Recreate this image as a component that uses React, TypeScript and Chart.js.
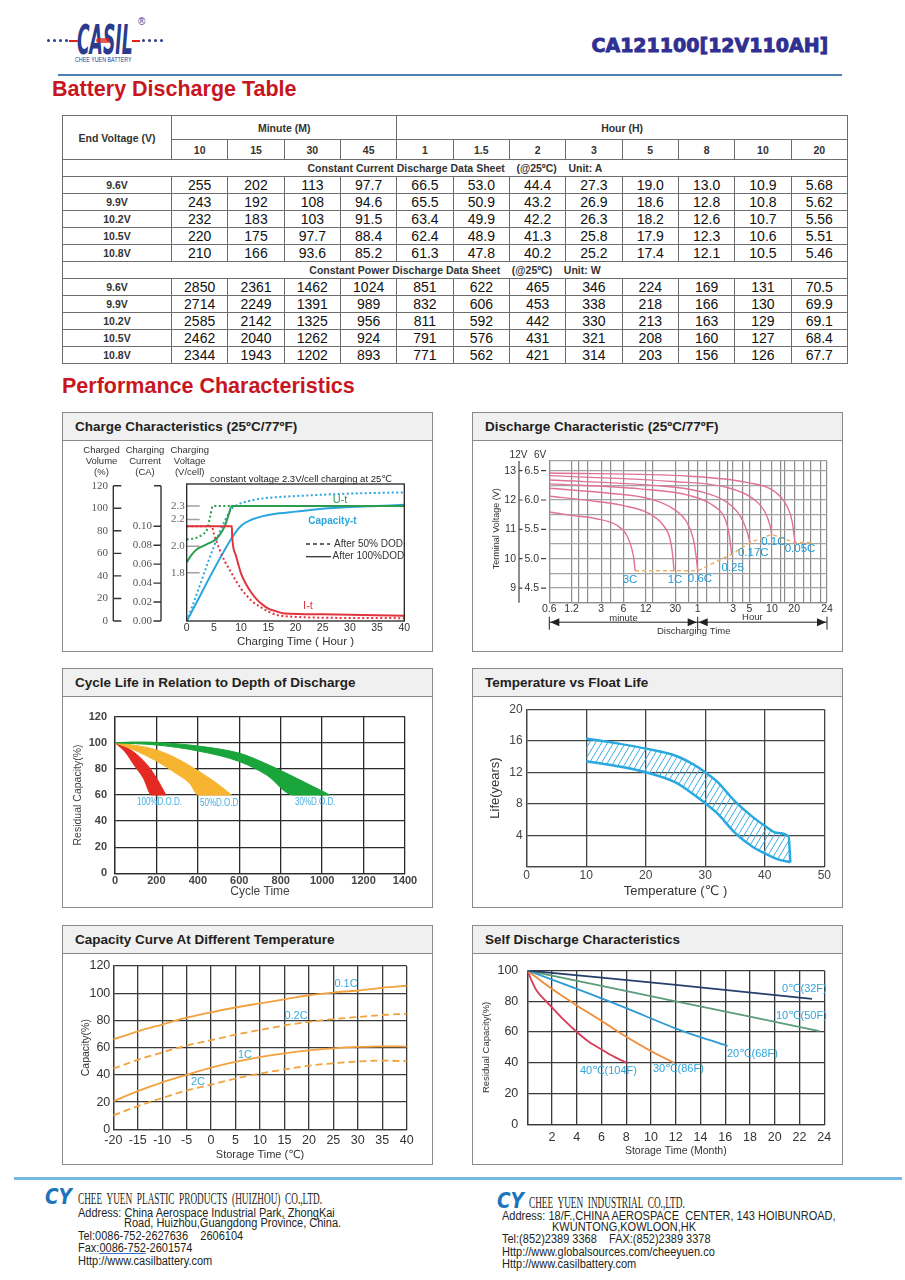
import React, { useEffect, useRef } from 'react';
import { Chart, registerables } from 'chart.js';

Chart.register(...registerables);

const SANS = "'Liberation Sans', Arial, 'DejaVu Sans', sans-serif";
const SERIF = "'Liberation Serif', 'DejaVu Serif', serif";
Chart.defaults.font.family = SANS;
Chart.defaults.color = '#333';

// ---------------- Table data ----------------
const minuteHeaders = ['10', '15', '30', '45'];
const hourHeaders = ['1', '1.5', '2', '3', '5', '8', '10', '20'];
const endVoltages = ['9.6V', '9.9V', '10.2V', '10.5V', '10.8V'];
const currentAt96 = ['255', '202', '113', '97.7', '66.5', '53.0', '44.4', '27.3', '19.0', '13.0', '10.9', '5.68'];
const currentAt99 = ['243', '192', '108', '94.6', '65.5', '50.9', '43.2', '26.9', '18.6', '12.8', '10.8', '5.62'];
const currentAt102 = ['232', '183', '103', '91.5', '63.4', '49.9', '42.2', '26.3', '18.2', '12.6', '10.7', '5.56'];
const currentAt105 = ['220', '175', '97.7', '88.4', '62.4', '48.9', '41.3', '25.8', '17.9', '12.3', '10.6', '5.51'];
const currentAt108 = ['210', '166', '93.6', '85.2', '61.3', '47.8', '40.2', '25.2', '17.4', '12.1', '10.5', '5.46'];
const powerAt96 = ['2850', '2361', '1462', '1024', '851', '622', '465', '346', '224', '169', '131', '70.5'];
const powerAt99 = ['2714', '2249', '1391', '989', '832', '606', '453', '338', '218', '166', '130', '69.9'];
const powerAt102 = ['2585', '2142', '1325', '956', '811', '592', '442', '330', '213', '163', '129', '69.1'];
const powerAt105 = ['2462', '2040', '1262', '924', '791', '576', '431', '321', '208', '160', '127', '68.4'];
const powerAt108 = ['2344', '1943', '1202', '893', '771', '562', '421', '314', '203', '156', '126', '67.7'];
const currentRows = [currentAt96, currentAt99, currentAt102, currentAt105, currentAt108];
const powerRows = [powerAt96, powerAt99, powerAt102, powerAt105, powerAt108];

// ---------------- Charge characteristics ----------------
const chargeAxisCaptions = [['Charged', 'Volume', '(%)'], ['Charging', 'Current', '(CA)'], ['Charging', 'Voltage', '(V/cell)']];
const chargeVolumeTicks = [0, 20, 40, 60, 80, 100, 120];
const chargeCurrentTicks = [0, 0.02, 0.04, 0.06, 0.08, 0.1];
const chargeVoltageTicks = [1.8, 2.0, 2.2, 2.3];
const capFullHours = [0, 8.6, 10, 12, 14, 17, 20, 25, 30, 35, 40];
const capFullPct = [0, 76, 84.5, 90, 93, 95.5, 97, 99.5, 101, 102, 103];
const capHalfHours = [0, 8, 9, 10, 12, 14, 17, 20, 25, 30, 35, 40];
const capHalfPct = [0, 98, 102, 104.5, 107, 108.7, 110, 110.8, 112, 113, 113.6, 114.1];
const voltFullHours = [0, 1, 2, 3, 4, 5, 6, 7, 7.6, 8.3, 40];
const voltFullV = [1.88, 1.94, 1.98, 2.0, 2.02, 2.04, 2.08, 2.15, 2.22, 2.3, 2.3];
const voltHalfHours = [0, 1, 2, 3, 3.7, 4.3, 4.8, 40];
const voltHalfV = [2.05, 2.055, 2.065, 2.09, 2.12, 2.22, 2.3, 2.3];
const currFullHours = [0, 8.3, 8.35, 9, 10, 11, 12, 13, 14, 15, 16, 18, 25, 40];
const currFullCA = [0.1, 0.1, 0.09, 0.07, 0.05, 0.038, 0.029, 0.022, 0.017, 0.013, 0.011, 0.008, 0.007, 0.0055];
const currHalfHours = [0, 4.6, 5, 6, 7, 8, 9, 10, 11, 12, 13.5, 15, 16.5, 19.6, 25, 40];
const currHalfCA = [0.1, 0.1, 0.092, 0.076, 0.063, 0.053, 0.043, 0.034, 0.027, 0.021, 0.015, 0.01, 0.0065, 0.0045, 0.0035, 0.003];
// relations of the three left scales (plot units = charged volume %)
const volumeMax = 121.5;
const volumePerCA = 840;
const volumePerVolt = 118.5;
const volumeOffsetVolt = 170.6;

// ---------------- Discharge characteristic ----------------
const dischargeGridMinutes = [0.6, 1.2, 1.5, 2, 3, 4, 6, 12, 15, 30, 45, 60, 80, 120, 150, 180, 240, 300, 420, 600, 780, 900, 1200, 1600, 2000, 2700, 3320];
const dischargeTickMinutes = [0.6, 1.2, 3, 6, 12, 30, 60, 180, 300, 600, 1200, 3320];
const dischargeTickLabels = ['0.6', '1.2', '3', '6', '12', '30', '1', '3', '5', '10', '20', '24'];
const dischargeGridVolts = [8.5, 9, 9.5, 10, 10.5, 11, 11.5, 12, 12.5, 13, 13.33];
const dischargeVoltTicks = [9, 10, 11, 12, 13];
const d3CMin = [0.6, 1.26, 2.61, 4.86, 6.63, 7.74, 8.39, 8.57];
const d3CV = [11.59, 11.47, 11.36, 11.14, 10.8, 10.35, 9.89, 9.59];
const d1CMin = [0.6, 2.12, 5.96, 13.6, 20.6, 25.4, 27.6, 28.8];
const d1CV = [12.13, 11.98, 11.81, 11.53, 11.14, 10.68, 10.12, 9.59];
const d06CMin = [0.6, 3.56, 13.6, 28.1, 42.6, 52.3, 56.9, 60];
const d06CV = [12.4, 12.24, 12.04, 11.7, 11.25, 10.68, 10.12, 9.59];
const d025CMin = [0.6, 10, 47.2, 97.3, 140, 160, 172];
const d025CV = [12.55, 12.38, 12.15, 11.81, 11.36, 10.8, 10.15];
const d017CMin = [0.6, 16.8, 64.4, 147.5, 223, 274, 304];
const d017CV = [12.68, 12.49, 12.29, 11.93, 11.47, 10.97, 10.55];
const d01CMin = [0.6, 28.1, 147.5, 337, 484, 565, 596];
const d01CV = [12.83, 12.63, 12.43, 12.04, 11.59, 11.14, 10.83];
const d005CMin = [0.6, 47.2, 274, 627, 949, 1130, 1228];
const d005CV = [12.92, 12.81, 12.6, 12.32, 11.81, 11.25, 10.55];
const endVoltMin = [8.57, 60, 172, 304, 596, 1228, 2000];
const endVoltV = [9.59, 9.59, 10.15, 10.55, 10.83, 10.55, 10.55];
const dischargeRateLabels = ['3C', '1C', '0.6C', '0.25', '0.17C', '0.1C', '0.05C'];

// ---------------- Cycle life ----------------
const dod100UpperX = [0, 40, 88, 156, 201, 246];
const dod100UpperY = [100, 97.5, 93.2, 83, 72.8, 60];
const dod100LowerX = [0, 48, 92, 137, 177, 246];
const dod100LowerY = [100, 93.2, 83, 72.8, 60, 60];
const dod50UpperX = [0, 100, 201, 298, 402, 491, 563];
const dod50UpperY = [100, 98, 94.5, 88, 78.4, 69, 60];
const dod50LowerX = [0, 100, 200, 300, 360, 402, 563];
const dod50LowerY = [100, 94, 86, 76, 69, 60, 60];
const dod30UpperX = [0, 100, 201, 402, 603, 700, 805, 925, 1038];
const dod30UpperY = [100, 100.6, 100.3, 97.5, 91.9, 86, 78.4, 69, 60];
const dod30LowerX = [0, 201, 402, 603, 732, 861, 1038];
const dod30LowerY = [100, 98.3, 93.7, 85.5, 75.3, 60, 60];
const dodLabels = ['100%D.O.D.', '50%D.O.D', '30%D.O.D.'];

// ---------------- Float life ----------------
const floatUpperTemp = [10, 15, 20, 25, 28, 30, 32, 35, 38, 40, 42, 44, 44.3];
const floatUpperYears = [16.3, 15.7, 15.0, 14.1, 13.0, 12.0, 10.8, 8.3, 6.3, 5.2, 4.3, 3.85, 0.55];
const floatLowerTemp = [10, 15, 20, 25, 28, 30, 32, 35, 38, 40, 42, 44.3];
const floatLowerYears = [13.4, 12.8, 12.0, 10.7, 9.2, 8.05, 6.8, 4.3, 2.5, 1.7, 1.0, 0.55];

// ---------------- Capacity vs temperature ----------------
const tempAxis = [-20, -15, -10, -5, 0, 5, 10, 15, 20, 25, 30, 35, 40];
const cap01C = [66, 72, 77, 82, 86, 89.5, 92.5, 95.5, 98.5, 100.5, 102, 104, 105.5];
const cap02C = [44.6, 51, 56.5, 61.5, 65.5, 69.5, 73, 76.3, 79, 81, 82.5, 84, 84.8];
const cap1C = [20.6, 28, 34.5, 40, 45.3, 49.5, 53, 55.8, 58, 59.5, 60.5, 61, 60.8];
const cap2C = [10.3, 17, 23, 28.5, 32.8, 37.3, 41, 44, 46.8, 48.5, 49.8, 50.5, 50];
const capRateLabels = ['0.1C', '0.2C', '1C', '2C'];

// ---------------- Self discharge ----------------
const sd0Months = [0, 12, 23];
const sd0Pct = [100, 90.6, 81.6];
const sd10Months = [0, 12, 23.6];
const sd10Pct = [100, 80, 60.6];
const sd20Months = [0, 4, 8, 12.07, 16.19];
const sd20Pct = [100, 88.1, 75.5, 62.1, 50.9];
const sd30Months = [0, 1.97, 4, 6.14, 8.03, 9.9, 11.85];
const sd30Pct = [100, 88.1, 77.3, 66.5, 56.7, 48, 40];
const sd40Months = [0, 0.75, 1.97, 3, 4, 5, 6.14, 7, 8.03];
const sd40Pct = [100, 87, 76.2, 67.5, 60, 53.5, 48, 44, 40];
const sdLabels = ['0℃(32F)', '10℃(50F)', '20℃(68F)', '30℃(86F)', '40℃(104F)'];

// ---------------- helpers ----------------
const pts = (xs: number[], ys: number[]) => xs.map((x, i) => ({ x, y: ys[i] }));

function lineDs(data: any[], color: string, extra: any = {}) {
  return {
    data,
    borderColor: color,
    backgroundColor: color,
    borderWidth: 2,
    pointRadius: 0,
    fill: false,
    cubicInterpolationMode: 'monotone',
    ...extra,
  };
}

function baseOptions(padding: any) {
  return {
    responsive: false,
    maintainAspectRatio: false,
    animation: false,
    devicePixelRatio: 1,
    events: [],
    layout: { padding },
    plugins: { legend: { display: false }, tooltip: { enabled: false } },
    elements: { point: { radius: 0 } },
  };
}

function axis(o: any) {
  const horizontal = !!o.horizontal;
  return {
    type: 'linear',
    min: o.min,
    max: o.max,
    ticks: {
      stepSize: o.step,
      padding: o.pad,
      color: o.labelColor || '#333',
      font: { size: o.labelSize, weight: o.bold ? 'bold' : 'normal', family: SANS },
      maxRotation: 0,
      autoSkip: false,
      callback: (v: number) => (o.hideZero && v === 0 ? '' : String(Math.round(v * 100) / 100)),
    },
    grid: { color: o.gridColor, lineWidth: o.gridWidth, drawTicks: false },
    border: { display: true, color: o.gridColor, width: o.gridWidth },
    title: {
      display: true,
      text: o.title,
      color: o.titleColor || '#333',
      font: { size: o.titleSize, family: SANS },
      padding: horizontal ? { top: 0, bottom: o.titlePad } : { top: o.titlePad, bottom: 0 },
    },
    afterFit: (s: any) => {
      if (horizontal) s.height = o.fixed;
      else s.width = o.fixed;
    },
  };
}

function text(ctx: any, t: string, x: number, y: number, font: string, color: string, align = 'center', sx = 1) {
  ctx.save();
  ctx.font = font;
  ctx.fillStyle = color;
  ctx.textAlign = align;
  ctx.textBaseline = 'middle';
  ctx.translate(x, y);
  ctx.scale(sx, 1);
  ctx.fillText(t, 0, 0);
  ctx.restore();
}

// ---------------- Chart 1 ----------------
const RED = '#e2343f';
const GREEN = '#2a9d4f';
const BLUE = '#2aa6de';

const chargeDecor = {
  id: 'chargeDecor',
  afterDraw(chart: any) {
    const { ctx, chartArea: a, scales } = chart;
    const yCap = scales.yCap;
    const yCur = scales.yCur;
    const yVolt = scales.yVolt;
    ctx.save();
    const headX = [38.5, 82, 126.7];
    chargeAxisCaptions.forEach((lines, i) =>
      lines.forEach((t, j) => text(ctx, t, headX[i], 9 + j * 11.3, `9.5px ${SANS}`, '#333')),
    );
    const top = yCap.getPixelForValue(120);
    const bottom = yCap.getPixelForValue(0);
    ctx.strokeStyle = '#333';
    ctx.lineWidth = 1.4;
    const vx = 50.3;
    ctx.beginPath();
    ctx.moveTo(vx, top);
    ctx.lineTo(vx, bottom);
    chargeVolumeTicks.forEach((v) => {
      const py = yCap.getPixelForValue(v);
      ctx.moveTo(vx, py);
      ctx.lineTo(vx + 8, py);
    });
    const cx = 98;
    ctx.moveTo(cx, top);
    ctx.lineTo(cx, bottom);
    ctx.moveTo(cx - 7, top);
    ctx.lineTo(cx, top);
    chargeCurrentTicks.forEach((c) => {
      const py = yCur.getPixelForValue(c);
      ctx.moveTo(cx - 7.5, py);
      ctx.lineTo(cx, py);
    });
    ctx.stroke();
    chargeVolumeTicks.forEach((v) => text(ctx, String(v), 45, yCap.getPixelForValue(v), `11px ${SERIF}`, '#555', 'right'));
    chargeCurrentTicks.forEach((c) => text(ctx, c.toFixed(2), 89, yCur.getPixelForValue(c), `11px ${SERIF}`, '#555', 'right'));
    ctx.strokeStyle = '#a0a0a0';
    ctx.lineWidth = 1.5;
    ctx.beginPath();
    chargeVoltageTicks.forEach((v) => {
      const py = yVolt.getPixelForValue(v);
      ctx.moveTo(a.left, py);
      ctx.lineTo(a.left + 13, py);
    });
    ctx.stroke();
    chargeVoltageTicks.forEach((v) => text(ctx, v.toFixed(1), a.left - 2, yVolt.getPixelForValue(v), `11px ${SERIF}`, '#666', 'right'));
    ctx.strokeStyle = '#222';
    ctx.lineWidth = 1.3;
    ctx.strokeRect(a.left, a.top, a.right - a.left, a.bottom - a.top);
    text(ctx, 'constant voltage 2.3V/cell charging at 25℃', 238, 38, `9.5px ${SANS}`, '#222');
    text(ctx, 'U-t', 277, 59, `11px ${SANS}`, GREEN);
    text(ctx, 'Capacity-t', 269.5, 80.7, `bold 10px ${SANS}`, BLUE);
    text(ctx, 'I-t', 245, 165, `11px ${SANS}`, RED);
    ctx.strokeStyle = '#333';
    ctx.lineWidth = 1.3;
    ctx.setLineDash([4, 3]);
    ctx.beginPath();
    ctx.moveTo(243, 103);
    ctx.lineTo(267, 103);
    ctx.stroke();
    ctx.setLineDash([]);
    ctx.beginPath();
    ctx.moveTo(243, 115.7);
    ctx.lineTo(268, 115.7);
    ctx.stroke();
    text(ctx, 'After 50% DOD', 271, 103, `10px ${SANS}`, '#333', 'left');
    text(ctx, 'After 100%DOD', 269.5, 115.7, `10px ${SANS}`, '#333', 'left');
    ctx.restore();
  },
};

function makeCharge() {
  const dot = [2, 2.5];
  return {
    type: 'line',
    data: {
      datasets: [
        lineDs(pts(currHalfHours, currHalfCA), RED, { yAxisID: 'yCur', borderDash: dot }),
        lineDs(pts(currFullHours, currFullCA), RED, { yAxisID: 'yCur' }),
        lineDs(pts(voltHalfHours, voltHalfV), GREEN, { yAxisID: 'yVolt', borderDash: dot }),
        lineDs(pts(voltFullHours, voltFullV), GREEN, { yAxisID: 'yVolt' }),
        lineDs(pts(capHalfHours, capHalfPct), BLUE, { yAxisID: 'yCap', borderDash: dot }),
        lineDs(pts(capFullHours, capFullPct), BLUE, { yAxisID: 'yCap' }),
      ],
    },
    options: {
      ...baseOptions({ left: 123.7, top: 43, right: 27.7, bottom: 0 }),
      scales: {
        x: {
          type: 'linear',
          min: 0,
          max: 40,
          ticks: { stepSize: 5, padding: 0.5, color: '#333', font: { size: 10.5 }, maxRotation: 0 },
          grid: { display: false, drawTicks: false },
          border: { display: false },
          title: { display: true, text: 'Charging Time ( Hour )', color: '#333', font: { size: 11.5 }, padding: { top: 0, bottom: 3.1 } },
          afterFit: (s: any) => { s.height = 31; },
        },
        yCap: { type: 'linear', display: false, min: 0, max: volumeMax },
        yCur: { type: 'linear', display: false, min: 0, max: volumeMax / volumePerCA },
        yVolt: {
          type: 'linear',
          display: false,
          min: volumeOffsetVolt / volumePerVolt,
          max: (volumeMax + volumeOffsetVolt) / volumePerVolt,
        },
      },
    },
    plugins: [chargeDecor],
  };
}

// ---------------- Chart 2 ----------------
const PINK = '#e0729a';
const DISCHARGE_LABEL_POS = [
  [157, 139], [202, 139], [227, 138], [259.7, 126.7], [280.3, 112.3], [300.3, 101.3], [327, 108.3],
];

function arrowHead(ctx: any, tip: number, y: number, dir: number) {
  ctx.beginPath();
  ctx.moveTo(tip, y);
  ctx.lineTo(tip - dir * 9, y - 4);
  ctx.lineTo(tip - dir * 9, y + 4);
  ctx.closePath();
  ctx.fill();
}

const dischargeDecor = {
  id: 'dischargeDecor',
  afterDraw(chart: any) {
    const { ctx, chartArea: a, scales } = chart;
    const x = scales.x;
    const y = scales.y;
    ctx.save();
    const top = y.getPixelForValue(y.max);
    const bot = y.getPixelForValue(y.min);
    ctx.strokeStyle = '#444';
    ctx.lineWidth = 1.2;
    ctx.beginPath();
    ctx.moveTo(46, top);
    ctx.lineTo(46, bot);
    dischargeVoltTicks.forEach((v) => {
      const py = y.getPixelForValue(v);
      ctx.moveTo(46, py);
      ctx.lineTo(49.5, py);
      ctx.moveTo(68, py);
      ctx.lineTo(73, py);
    });
    ctx.stroke();
    dischargeVoltTicks.forEach((v) => {
      const py = y.getPixelForValue(v);
      text(ctx, String(v), 43, py, `10.5px ${SANS}`, '#333', 'right');
      text(ctx, (v / 2).toFixed(1), 66, py, `10.5px ${SANS}`, '#333', 'right');
    });
    text(ctx, '12V', 45.5, 14, `10px ${SANS}`, '#333');
    text(ctx, '6V', 67, 14, `10px ${SANS}`, '#333');
    ctx.save();
    ctx.translate(24, (top + bot) / 2 - 3);
    ctx.rotate(-Math.PI / 2);
    text(ctx, 'Terminal Voltage (V)', 0, 0, `9px ${SANS}`, '#333');
    ctx.restore();
    const xm = x.getPixelForValue(0.6);
    const xh = x.getPixelForValue(60);
    const xe = x.getPixelForValue(x.max);
    const ay = a.bottom + 19.5;
    ctx.strokeStyle = '#222';
    ctx.fillStyle = '#222';
    ctx.lineWidth = 1;
    ctx.beginPath();
    ctx.moveTo(xm, ay);
    ctx.lineTo(xe, ay);
    [xm, xh, xe].forEach((px) => {
      ctx.moveTo(px, a.bottom + 14);
      ctx.lineTo(px, a.bottom + 27);
    });
    ctx.stroke();
    arrowHead(ctx, xm + 1, ay, -1);
    arrowHead(ctx, xh - 1, ay, 1);
    arrowHead(ctx, xh + 1, ay, -1);
    arrowHead(ctx, xe - 1, ay, 1);
    text(ctx, 'minute', (xm + xh) / 2, a.bottom + 15.5, `9.5px ${SANS}`, '#333');
    text(ctx, 'Hour', (xh + xe) / 2 - 10, a.bottom + 14.5, `9.5px ${SANS}`, '#333');
    text(ctx, 'Discharging Time', xh - 4, a.bottom + 28.5, `9.5px ${SANS}`, '#333');
    dischargeRateLabels.forEach((t, i) =>
      text(ctx, t, DISCHARGE_LABEL_POS[i][0], DISCHARGE_LABEL_POS[i][1], `11.5px ${SANS}`, '#1e9ad6'),
    );
    ctx.restore();
  },
};

function makeDischarge() {
  const curves = [
    [d3CMin, d3CV], [d1CMin, d1CV], [d06CMin, d06CV], [d025CMin, d025CV],
    [d017CMin, d017CV], [d01CMin, d01CV], [d005CMin, d005CV],
  ];
  return {
    type: 'line',
    data: {
      datasets: [
        ...curves.map(([t, v]) => lineDs(pts(t, v), PINK, { borderWidth: 1.4 })),
        lineDs(pts(endVoltMin, endVoltV), '#f1b061', { borderWidth: 1.4, borderDash: [4, 3], cubicInterpolationMode: 'default', tension: 0 }),
      ],
    },
    options: {
      ...baseOptions({ left: 0, top: 20, right: 16, bottom: 0 }),
      scales: {
        x: {
          type: 'logarithmic',
          min: 0.6,
          max: 3320,
          afterBuildTicks: (s: any) => { s.ticks = dischargeGridMinutes.map((value) => ({ value })); },
          ticks: {
            autoSkip: false,
            maxRotation: 0,
            padding: 0,
            color: '#333',
            font: { size: 10.5 },
            callback: (v: number) => {
              const i = dischargeTickMinutes.findIndex((m) => Math.abs(m - v) / m < 0.001);
              return i >= 0 ? dischargeTickLabels[i] : '';
            },
          },
          grid: { color: '#8c8c8c', lineWidth: 1.2, drawTicks: false },
          border: { display: true, color: '#8c8c8c', width: 1.2 },
          afterFit: (s: any) => { s.height = 49.3; },
        },
        y: {
          type: 'linear',
          min: 8.5,
          max: 13.33,
          afterBuildTicks: (s: any) => { s.ticks = dischargeGridVolts.map((value) => ({ value })); },
          ticks: { display: false },
          grid: { color: '#a3a3a3', lineWidth: 1.2, drawTicks: false },
          border: { display: true, color: '#8c8c8c', width: 1.2 },
          afterFit: (s: any) => { s.width = 76.3; },
        },
      },
    },
    plugins: [dischargeDecor],
  };
}

// ---------------- Chart 3 ----------------
const DOD_LABEL_POS = [[74, 105], [137, 106], [232, 105]];
const cycleDecor = {
  id: 'cycleDecor',
  afterDraw(chart: any) {
    const { ctx } = chart;
    dodLabels.forEach((t, i) => text(ctx, t, DOD_LABEL_POS[i][0], DOD_LABEL_POS[i][1], `10px ${SANS}`, '#45aee0', 'left', 0.8));
  },
};

function band(upper: any[], lower: any[], color: string) {
  return [
    lineDs(upper, color, { borderWidth: 1 }),
    lineDs(lower, color, { borderWidth: 1, fill: '-1' }),
  ];
}

function makeCycle() {
  return {
    type: 'line',
    data: {
      datasets: [
        ...band(pts(dod30UpperX, dod30UpperY), pts(dod30LowerX, dod30LowerY), '#19a53a'),
        ...band(pts(dod50UpperX, dod50UpperY), pts(dod50LowerX, dod50LowerY), '#f7b431'),
        ...band(pts(dod100UpperX, dod100UpperY), pts(dod100LowerX, dod100LowerY), '#e52a23'),
      ],
    },
    options: {
      ...baseOptions({ left: 0, top: 19.7, right: 27, bottom: 0 }),
      scales: {
        x: axis({ horizontal: true, min: 0, max: 1400, step: 200, fixed: 33.7, labelSize: 11, bold: true, labelColor: '#444', pad: 1.1, title: 'Cycle Time', titleSize: 12, titlePad: 8.1, titleColor: '#444', gridColor: '#2b2b2b', gridWidth: 1.3 }),
        y: axis({ min: 0, max: 120, step: 20, fixed: 52, labelSize: 11, bold: true, labelColor: '#444', pad: 8, title: 'Residual Capacity(%)', titleSize: 10.5, titlePad: 8.7, titleColor: '#444', gridColor: '#2b2b2b', gridWidth: 1.3 }),
      },
    },
    plugins: [cycleDecor],
  };
}

// ---------------- Chart 4 ----------------
function hatch(color: string) {
  const c = document.createElement('canvas');
  c.width = 6;
  c.height = 10;
  const g = c.getContext('2d') as CanvasRenderingContext2D;
  g.strokeStyle = color;
  g.lineWidth = 1;
  g.beginPath();
  g.moveTo(0, 10);
  g.lineTo(6, 0);
  g.moveTo(-6, 10);
  g.lineTo(0, 0);
  g.moveTo(6, 10);
  g.lineTo(12, 0);
  g.stroke();
  return g.createPattern(c, 'repeat');
}

function makeFloat() {
  const edge = '#2aa8e0';
  return {
    type: 'line',
    data: {
      datasets: [
        lineDs(pts(floatUpperTemp, floatUpperYears), edge, { borderWidth: 2.5 }),
        lineDs(pts(floatLowerTemp, floatLowerYears), edge, { borderWidth: 2.5, fill: '-1', backgroundColor: hatch('#3aaee0') }),
      ],
    },
    options: {
      ...baseOptions({ left: 0, top: 12.3, right: 18.7, bottom: 0 }),
      scales: {
        x: axis({ horizontal: true, min: 0, max: 50, step: 10, fixed: 40.3, labelSize: 12, labelColor: '#444', pad: 2, title: 'Temperature (℃ )', titleSize: 13, titlePad: 8.2, gridColor: '#454545', gridWidth: 1.3 }),
        y: axis({ min: 0, max: 20, step: 4, fixed: 53.7, labelSize: 12, labelColor: '#444', pad: 4, hideZero: true, title: 'Life(years)', titleSize: 13, titlePad: 14.2, gridColor: '#454545', gridWidth: 1.3 }),
      },
    },
  };
}

// ---------------- Chart 5 ----------------
const CAP_LABEL_POS = [[283, 29.7], [233, 62], [182, 101], [135, 128]];
const capDecor = {
  id: 'capDecor',
  afterDraw(chart: any) {
    const { ctx } = chart;
    capRateLabels.forEach((t, i) => text(ctx, t, CAP_LABEL_POS[i][0], CAP_LABEL_POS[i][1], `11px ${SANS}`, '#39a9dc'));
  },
};

function makeCapacity() {
  const orange = '#f2a23e';
  const dash = [7, 4];
  return {
    type: 'line',
    data: {
      datasets: [
        lineDs(pts(tempAxis, cap01C), orange, { borderWidth: 1.8 }),
        lineDs(pts(tempAxis, cap02C), orange, { borderWidth: 1.8, borderDash: dash }),
        lineDs(pts(tempAxis, cap1C), orange, { borderWidth: 1.8 }),
        lineDs(pts(tempAxis, cap2C), orange, { borderWidth: 1.8, borderDash: dash }),
      ],
    },
    options: {
      ...baseOptions({ left: 0, top: 12, right: 25.3, bottom: 0 }),
      scales: {
        x: axis({ horizontal: true, min: -20, max: 40, step: 5, fixed: 34.7, labelSize: 12.5, pad: 3.5, title: 'Storage Time (℃)', titleSize: 11, titlePad: 2.7, gridColor: '#3a3a3a', gridWidth: 1.3 }),
        y: axis({ min: 0, max: 120, step: 20, fixed: 50.3, labelSize: 12.5, pad: 3, title: 'Capacity(%)', titleSize: 10.5, titlePad: 17, gridColor: '#3a3a3a', gridWidth: 1.3 }),
      },
    },
    plugins: [capDecor],
  };
}

// ---------------- Chart 6 ----------------
const SD_LABEL_POS = [[309, 35], [303, 62], [254, 100], [180, 115], [107, 117]];
const sdDecor = {
  id: 'sdDecor',
  afterDraw(chart: any) {
    const { ctx } = chart;
    sdLabels.forEach((t, i) => text(ctx, t, SD_LABEL_POS[i][0], SD_LABEL_POS[i][1], `11px ${SANS}`, '#2fa5dc', 'left'));
  },
};

function makeSelfDischarge() {
  const opt = { borderWidth: 1.8, tension: 0.3, cubicInterpolationMode: 'default' };
  return {
    type: 'line',
    data: {
      datasets: [
        lineDs(pts(sd0Months, sd0Pct), '#27406b', opt),
        lineDs(pts(sd10Months, sd10Pct), '#5d9c7c', opt),
        lineDs(pts(sd20Months, sd20Pct), '#2b9ad6', opt),
        lineDs(pts(sd30Months, sd30Pct), '#f08b36', opt),
        lineDs(pts(sd40Months, sd40Pct), '#da3a5c', opt),
      ],
    },
    options: {
      ...baseOptions({ left: 0, top: 16.3, right: 18.7, bottom: 0 }),
      scales: {
        x: axis({ horizontal: true, min: 0, max: 24, step: 2, fixed: 39.7, labelSize: 12.5, pad: 6.2, hideZero: true, title: 'Storage Time (Month)', titleSize: 10.5, titlePad: 6.7, gridColor: '#3a3a3a', gridWidth: 1.3 }),
        y: axis({ min: 0, max: 100, step: 20, fixed: 54.3, labelSize: 12.5, pad: 9, title: 'Residual Capacity(%)', titleSize: 9.5, titlePad: 7.7, gridColor: '#3a3a3a', gridWidth: 1.3 }),
      },
    },
    plugins: [sdDecor],
  };
}

// ---------------- Components ----------------
function ChartCanvas({ left, top, width, height, make }: any) {
  const ref = useRef<HTMLCanvasElement>(null);
  useEffect(() => {
    const chart = new Chart(ref.current as HTMLCanvasElement, make());
    return () => chart.destroy();
  }, []);
  return (
    <canvas
      ref={ref}
      width={width}
      height={height}
      style={{ position: 'absolute', left, top, width, height, display: 'block' }}
    />
  );
}

function Panel({ x, y, title }: any) {
  return (
    <div style={{ position: 'absolute', left: x, top: y, width: 371, height: 240, border: '1px solid #8a8a8a', boxSizing: 'border-box', background: '#fff' }}>
      <div style={{ height: 27, lineHeight: '27px', background: '#f0f0f0', borderBottom: '1px solid #8a8a8a', paddingLeft: 12, fontFamily: SANS, fontWeight: 'bold', fontSize: 13.5, color: '#231f20', whiteSpace: 'nowrap' }}>
        {title}
      </div>
    </div>
  );
}

const cellBase: React.CSSProperties = {
  border: '1px solid #6d6d6d',
  padding: 0,
  textAlign: 'center',
  verticalAlign: 'middle',
  whiteSpace: 'pre',
  overflow: 'hidden',
};
const headCell: React.CSSProperties = { ...cellBase, fontWeight: 'bold', fontSize: 10.5, color: '#333', lineHeight: '12px' };
const dataCell: React.CSSProperties = { ...cellBase, fontSize: 14, color: '#111', lineHeight: '15px' };

function DischargeTable() {
  const section = (label: string, rows: string[][]) => [
    <tr key={label} style={{ height: 17 }}>
      <td colSpan={13} style={headCell}>{label}</td>
    </tr>,
    ...rows.map((row, i) => (
      <tr key={label + i} style={{ height: 17 }}>
        <td style={headCell}>{endVoltages[i]}</td>
        {row.map((v, j) => (
          <td key={j} style={dataCell}>{v}</td>
        ))}
      </tr>
    )),
  ];
  return (
    <table style={{ position: 'absolute', left: 62, top: 115, width: 785, borderCollapse: 'collapse', tableLayout: 'fixed', fontFamily: SANS }}>
      <colgroup>
        <col style={{ width: 109 }} />
        {[...minuteHeaders, ...hourHeaders].map((h, i) => (
          <col key={i} style={{ width: 56.33 }} />
        ))}
      </colgroup>
      <tbody>
        <tr style={{ height: 24 }}>
          <td rowSpan={2} style={headCell}>End Voltage (V)</td>
          <td colSpan={minuteHeaders.length} style={headCell}>Minute (M)</td>
          <td colSpan={hourHeaders.length} style={headCell}>Hour (H)</td>
        </tr>
        <tr style={{ height: 20 }}>
          {[...minuteHeaders, ...hourHeaders].map((h, i) => (
            <td key={i} style={headCell}>{h}</td>
          ))}
        </tr>
        {section('Constant Current Discharge Data Sheet    (@25ºC)    Unit: A', currentRows)}
        {section('Constant Power Discharge Data Sheet    (@25ºC)    Unit: W', powerRows)}
      </tbody>
    </table>
  );
}

function Logo() {
  const dot = (x: number, k: string) => (
    <div key={k} style={{ position: 'absolute', left: x, top: 39, width: 3, height: 3, borderRadius: 2, background: '#2b3c8f' }} />
  );
  return (
    <>
      {[47, 53, 59, 65].map((x) => dot(x, 'l' + x))}
      {[142, 148, 154, 160].map((x) => dot(x, 'r' + x))}
      <div style={{ position: 'absolute', left: 69, top: 40, width: 10, height: 1.5, background: '#e2231a' }} />
      <div style={{ position: 'absolute', left: 132, top: 40, width: 8, height: 1.5, background: '#e2231a' }} />
      <div style={{ position: 'absolute', left: 77, top: 20.4, fontFamily: "'DejaVu Sans', sans-serif", fontSize: 40, lineHeight: '40px', fontWeight: 'bold', fontStyle: 'italic', color: '#2b3c8f', transform: 'scaleX(0.43)', transformOrigin: 'left top', whiteSpace: 'nowrap' }}>
        CASIL
      </div>
      <div style={{ position: 'absolute', left: 96, top: 38, width: 14, height: 5, borderRadius: 3, background: '#e2231a', opacity: 0.75 }} />
      <div style={{ position: 'absolute', left: 138, top: 16, fontFamily: SANS, fontSize: 10, color: '#2b3c8f' }}>®</div>
      <div style={{ position: 'absolute', left: 75, top: 56, fontFamily: SANS, fontSize: 6.5, lineHeight: '8px', color: '#2b3c8f', whiteSpace: 'nowrap', transform: 'scaleX(0.82)', transformOrigin: 'left top' }}>
        CHEE YUEN BATTERY
      </div>
    </>
  );
}

function FooterBlock({ x, iconTop, nameTop, name, lines }: any) {
  return (
    <>
      <div style={{ position: 'absolute', left: x.icon, top: iconTop, fontFamily: "'DejaVu Sans', sans-serif", fontSize: 22, lineHeight: '22px', fontWeight: 'bold', fontStyle: 'italic', color: '#1c75bc', transform: 'scaleX(0.84)', transformOrigin: 'left top' }}>
        CY
      </div>
      <div style={{ position: 'absolute', left: x.name, top: nameTop, fontFamily: SERIF, fontSize: 17, lineHeight: '17px', color: '#231f20', transform: 'scaleX(0.545)', transformOrigin: 'left top', whiteSpace: 'pre' }}>
        {name}
      </div>
      {lines.map((l: any, i: number) => (
        <div key={i} style={{ position: 'absolute', left: l.x, top: l.y - 7.5, fontFamily: SANS, fontSize: 12.5, lineHeight: '15px', color: '#231f20', whiteSpace: 'pre', transform: 'scaleX(0.88)', transformOrigin: 'left top' }}>
          {l.node}
        </div>
      ))}
    </>
  );
}

export default function App() {
  return (
    <div style={{ position: 'absolute', left: 0, top: 0, width: 905, height: 1280, background: '#fff', overflow: 'hidden' }}>
      <Logo />
      <div style={{ position: 'absolute', left: 591.5, top: 35.6, fontFamily: "'DejaVu Sans', sans-serif", fontWeight: 'bold', fontSize: 19, lineHeight: '19px', color: '#2e3192', whiteSpace: 'nowrap', WebkitTextStroke: '0.9px #2e3192' }}>
        CA121100[12V110AH]
      </div>
      <div style={{ position: 'absolute', left: 58, top: 73.5, width: 784, height: 2, background: '#4f7fb0' }} />
      <div style={{ position: 'absolute', left: 52, top: 79.2, fontFamily: SANS, fontWeight: 'bold', fontSize: 21.5, lineHeight: '21.5px', color: '#c8161e', whiteSpace: 'nowrap' }}>
        Battery Discharge Table
      </div>
      <DischargeTable />
      <div style={{ position: 'absolute', left: 62, top: 376.4, fontFamily: SANS, fontWeight: 'bold', fontSize: 21.5, lineHeight: '21.5px', color: '#c8161e', whiteSpace: 'nowrap' }}>
        Performance Characteristics
      </div>

      <Panel x={62} y={412} title="Charge Characteristics (25ºC/77ºF)" />
      <Panel x={472} y={412} title="Discharge Characteristic (25ºC/77ºF)" />
      <Panel x={62} y={668} title="Cycle Life in Relation to Depth of Discharge" />
      <Panel x={472} y={668} title="Temperature vs Float Life" />
      <Panel x={62} y={925} title="Capacity Curve At Different Temperature" />
      <Panel x={472} y={925} title="Self Discharge Characteristics" />

      <ChartCanvas left={63} top={441} width={369} height={211} make={makeCharge} />
      <ChartCanvas left={473} top={441} width={370} height={211} make={makeDischarge} />
      <ChartCanvas left={63} top={697} width={369} height={210} make={makeCycle} />
      <ChartCanvas left={473} top={697} width={370} height={210} make={makeFloat} />
      <ChartCanvas left={63} top={954} width={369} height={210} make={makeCapacity} />
      <ChartCanvas left={473} top={954} width={370} height={210} make={makeSelfDischarge} />

      <div style={{ position: 'absolute', left: 14, top: 1177, width: 888, height: 3, background: '#74b8e6' }} />
      <FooterBlock
        x={{ icon: 45, name: 78 }}
        iconTop={1186.4}
        nameTop={1189.5}
        name={'CHEE  YUEN  PLASTIC  PRODUCTS  (HUIZHOU)  CO.,LTD.'}
        lines={[
          { x: 78, y: 1213, node: 'Address: China Aerospace Industrial Park, ZhongKai' },
          { x: 124, y: 1223.5, node: 'Road, Huizhou,Guangdong Province, China.' },
          { x: 78, y: 1236, node: 'Tel:0086-752-2627636    2606104' },
          { x: 78, y: 1248.5, node: <span>Fax:<span style={{ textDecoration: 'underline', textDecorationColor: '#3a6fd0' }}>0086-752</span>-2601574</span> },
          { x: 78, y: 1261, node: 'Http://www.casilbattery.com' },
        ]}
      />
      <FooterBlock
        x={{ icon: 497, name: 529 }}
        iconTop={1189.5}
        nameTop={1193.5}
        name={'CHEE  YUEN  INDUSTRIAL  CO.,LTD.'}
        lines={[
          { x: 502, y: 1216.5, node: 'Address: 18/F.,CHINA AEROSPACE  CENTER, 143 HOIBUNROAD,' },
          { x: 552, y: 1227.5, node: 'KWUNTONG,KOWLOON,HK' },
          { x: 502, y: 1239.5, node: 'Tel:(852)2389 3368    FAX:(852)2389 3378' },
          { x: 502, y: 1252, node: 'Http://www.globalsources.com/cheeyuen.co' },
          { x: 502, y: 1264.5, node: 'Http://www.casilbattery.com' },
        ]}
      />
    </div>
  );
}
